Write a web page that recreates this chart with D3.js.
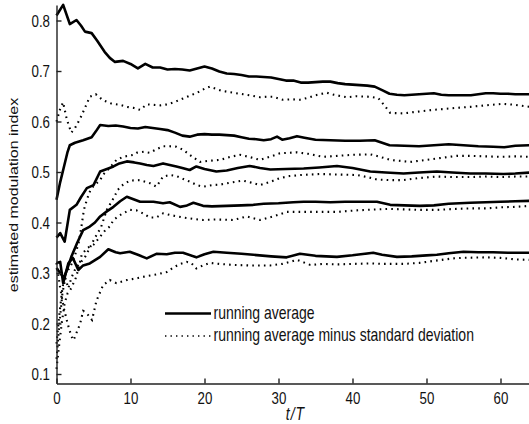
<!DOCTYPE html>
<html>
<head>
<meta charset="utf-8">
<script src="https://cdn.jsdelivr.net/npm/d3@7"></script>
<style>
  body { margin: 0; background: #fff; }
  svg { display: block; }
  text { font-family: "Liberation Sans", Arial, Helvetica, sans-serif; fill: #111; }
</style>
</head>
<body>
<svg id="chart" width="529" height="424"></svg>
<script>
// Axis ticks and legend entries
const xTicks = [0, 10, 20, 30, 40, 50, 60];
const yTicks = [0.1, 0.2, 0.3, 0.4, 0.5, 0.6, 0.7, 0.8];
const legendLabels = ["running average", "running average minus standard deviation"];

// Running averages of the estimated modulation index, as [t/T, value]
const runAvg1 = [[0,0.810],[0.9,0.831],[1.8,0.793],[2.7,0.801],[3.3,0.790],[3.85,0.778],[4.75,0.775],[5.5,0.760],[6.5,0.738],[7.2,0.726],[7.9,0.718],[9,0.720],[10,0.714],[11,0.705],[12,0.714],[13,0.707],[14,0.707],[15,0.703],[16,0.704],[17,0.703],[18,0.701],[19,0.705],[20,0.709],[21,0.705],[22,0.699],[23,0.695],[24,0.694],[25,0.692],[26,0.689],[27,0.689],[28,0.688],[29,0.687],[30,0.684],[31,0.681],[32,0.681],[33,0.677],[34,0.677],[35,0.678],[36,0.679],[37,0.679],[38,0.676],[39,0.674],[40,0.673],[41,0.672],[42,0.671],[43,0.669],[44,0.662],[45,0.655],[46,0.653],[47,0.652],[48,0.653],[49,0.654],[50,0.655],[51,0.656],[52,0.653],[53,0.652],[54,0.652],[55,0.652],[56,0.652],[57,0.654],[58,0.656],[59,0.656],[60,0.655],[61,0.655],[62,0.654],[63,0.654],[64,0.654]];
const runAvg2 = [[0,0.445],[0.5,0.480],[1,0.510],[1.5,0.540],[1.8,0.553],[2.5,0.558],[3.6,0.563],[4.75,0.569],[5.3,0.580],[5.9,0.593],[7,0.591],[8,0.592],[9,0.590],[10,0.587],[11,0.586],[12,0.589],[13,0.587],[14,0.585],[15,0.583],[16,0.578],[17,0.572],[18,0.570],[19,0.574],[20,0.575],[21,0.574],[22,0.574],[23,0.573],[24,0.572],[25,0.569],[26,0.566],[27,0.565],[28,0.563],[29,0.565],[29.8,0.570],[30.5,0.564],[31.5,0.567],[32.5,0.571],[33.5,0.568],[35,0.564],[37,0.563],[39,0.562],[41,0.562],[43,0.563],[44,0.558],[45,0.553],[47,0.552],[49,0.551],[51,0.553],[53,0.555],[55,0.553],[57,0.551],[59,0.550],[60.5,0.549],[62,0.552],[64,0.553]];
const runAvg3 = [[0,0.370],[0.5,0.379],[1.1,0.362],[1.8,0.425],[2.7,0.435],[3.3,0.450],[4.1,0.468],[5,0.474],[5.9,0.501],[7,0.507],[7.7,0.511],[8.5,0.517],[9.5,0.521],[10.5,0.519],[11.3,0.517],[12.2,0.514],[13.1,0.512],[14.4,0.517],[15.3,0.514],[16.2,0.511],[17,0.508],[18,0.504],[18.9,0.511],[20,0.506],[21.6,0.501],[23,0.503],[24.5,0.508],[26.1,0.512],[27.5,0.508],[28.9,0.505],[31,0.506],[33.4,0.507],[35.5,0.509],[37.9,0.512],[40,0.508],[42.4,0.501],[44.5,0.499],[46.9,0.497],[49,0.499],[51.4,0.501],[53.5,0.499],[55.9,0.497],[58,0.497],[60.4,0.496],[62,0.497],[64,0.499]];
const runAvg4 = [[0,0.310],[0.5,0.300],[1,0.290],[1.5,0.310],[2,0.332],[2.8,0.360],[3.6,0.385],[4.5,0.392],[5.2,0.400],[5.9,0.412],[6.8,0.422],[7.7,0.431],[8.6,0.442],[9.5,0.451],[10.4,0.446],[11.3,0.441],[12.2,0.441],[13.1,0.441],[14.4,0.438],[15.3,0.440],[16.7,0.431],[17.5,0.433],[18.5,0.439],[19.8,0.433],[21,0.432],[23,0.433],[25,0.434],[26.6,0.435],[28,0.437],[30,0.438],[32,0.440],[33.4,0.441],[35,0.441],[37,0.440],[39,0.441],[41,0.441],[43.3,0.441],[45.1,0.435],[47,0.434],[49.1,0.433],[51,0.434],[53,0.437],[55.9,0.439],[58,0.440],[60,0.441],[62,0.442],[64,0.443]];
const runAvg5 = [[0,0.320],[0.5,0.322],[0.9,0.280],[1.6,0.319],[2.2,0.330],[2.95,0.306],[3.6,0.315],[4.5,0.319],[5.9,0.332],[7,0.347],[8,0.341],[8.6,0.339],[9.9,0.342],[11,0.336],[12.2,0.329],[13.5,0.338],[14.9,0.337],[16,0.340],[17.1,0.340],[18.9,0.331],[20,0.337],[21.2,0.342],[23,0.340],[25,0.338],[26.6,0.336],[29,0.333],[31.1,0.331],[32.9,0.338],[35,0.334],[37.9,0.332],[40,0.335],[42.8,0.340],[44,0.336],[46,0.332],[48,0.333],[50,0.335],[51.4,0.336],[53,0.339],[55,0.342],[57,0.341],[59,0.341],[61,0.340],[63,0.340],[64,0.340]];

// Running averages minus one standard deviation
const runAvgMinusSd1 = [[0,0.600],[0.5,0.625],[0.9,0.638],[1.3,0.610],[1.6,0.595],[2,0.578],[2.5,0.587],[3.2,0.606],[3.85,0.627],[4.5,0.649],[5.3,0.654],[6.3,0.642],[7.5,0.635],[8.6,0.633],[9.5,0.629],[10.4,0.627],[11.3,0.623],[12.2,0.634],[13.1,0.633],[14,0.632],[15,0.634],[16,0.639],[17,0.645],[18,0.651],[19,0.657],[20,0.665],[20.7,0.669],[21.5,0.665],[22.3,0.661],[23,0.659],[24.3,0.656],[25.2,0.654],[26.5,0.651],[27.5,0.648],[28.4,0.649],[29.3,0.649],[30.6,0.643],[31.8,0.644],[32.9,0.643],[34,0.647],[35,0.652],[36.5,0.657],[37.5,0.653],[39.2,0.648],[40.5,0.650],[42.4,0.649],[43.5,0.646],[44.3,0.632],[45.1,0.617],[46.9,0.616],[48.5,0.619],[50.9,0.623],[52.5,0.625],[54,0.627],[55.9,0.629],[58,0.632],[60.3,0.635],[62,0.633],[64,0.629]];
const runAvgMinusSd2 = [[0,0.160],[0.4,0.220],[0.8,0.270],[1.2,0.300],[1.8,0.310],[2.4,0.330],[3,0.360],[3.4,0.395],[3.7,0.425],[4.1,0.445],[4.6,0.465],[5,0.472],[5.9,0.484],[6.3,0.495],[6.8,0.502],[7.7,0.517],[8.1,0.524],[9,0.530],[10.4,0.534],[10.8,0.538],[11.8,0.540],[12.6,0.538],[13.5,0.545],[14.4,0.551],[15.3,0.551],[16.2,0.550],[17.1,0.544],[18.2,0.532],[19.4,0.520],[20.5,0.522],[22.1,0.524],[23.5,0.530],[24.8,0.534],[26,0.530],[27.5,0.524],[29,0.531],[30.2,0.537],[32.5,0.539],[34,0.536],[36,0.530],[38,0.532],[40,0.534],[42.4,0.535],[43.5,0.531],[45.1,0.524],[47.8,0.520],[50,0.524],[52,0.528],[54.1,0.532],[56,0.532],[58,0.531],[60,0.530],[62,0.531],[64,0.530]];
const runAvgMinusSd3 = [[0,0.130],[0.4,0.200],[0.8,0.260],[1.2,0.290],[1.6,0.270],[2,0.290],[2.6,0.310],[3.2,0.320],[3.8,0.330],[4.5,0.350],[5.2,0.370],[6,0.390],[6.8,0.425],[7.7,0.448],[8.3,0.465],[9,0.475],[9.9,0.483],[11.3,0.484],[12.6,0.478],[13.5,0.471],[14.4,0.491],[15.3,0.494],[16.2,0.492],[17,0.487],[18,0.481],[19,0.474],[19.8,0.471],[21,0.474],[22.1,0.475],[23.5,0.479],[25.2,0.483],[26.3,0.479],[27.5,0.474],[28.8,0.480],[30.2,0.488],[31.5,0.492],[33,0.494],[35.6,0.496],[38,0.495],[40.6,0.494],[42,0.490],[43.3,0.485],[45,0.484],[46.9,0.484],[49,0.488],[51.4,0.491],[53.5,0.490],[55.9,0.490],[58,0.491],[60,0.490],[62,0.491],[64,0.491]];
const runAvgMinusSd4 = [[0,0.110],[0.3,0.150],[0.7,0.200],[1.1,0.240],[1.5,0.260],[2,0.270],[2.6,0.290],[3,0.310],[3.4,0.336],[4.1,0.349],[5,0.356],[5.9,0.372],[6.6,0.385],[7.2,0.392],[7.7,0.405],[8.5,0.414],[9.9,0.425],[10.8,0.424],[11.7,0.418],[12.6,0.410],[13.5,0.410],[14.4,0.418],[15.3,0.415],[17.1,0.410],[18.5,0.407],[19.8,0.405],[21.5,0.406],[23.9,0.405],[25.7,0.412],[27.5,0.405],[29.5,0.413],[31.1,0.421],[34,0.421],[37.9,0.421],[40.5,0.424],[43.3,0.426],[45,0.427],[46.9,0.426],[49,0.425],[51.4,0.425],[54,0.427],[56,0.428],[58.1,0.428],[60,0.430],[62,0.431],[64,0.433]];
const runAvgMinusSd5 = [[0,0.320],[0.5,0.270],[1,0.230],[1.5,0.200],[2,0.175],[2.3,0.167],[2.8,0.185],[3.2,0.200],[3.6,0.225],[4.1,0.220],[4.8,0.207],[5.4,0.245],[6.3,0.276],[7.2,0.286],[8.1,0.280],[9.5,0.286],[11,0.290],[12.2,0.294],[13.5,0.297],[14.9,0.302],[15.8,0.311],[16.7,0.318],[17.6,0.322],[18.2,0.320],[18.9,0.309],[19.8,0.315],[20.7,0.320],[22,0.318],[24,0.316],[26,0.315],[28.9,0.315],[30.5,0.318],[32.5,0.326],[34.3,0.316],[36,0.318],[38,0.317],[40,0.318],[42.4,0.319],[44,0.318],[46.9,0.318],[49,0.320],[51,0.324],[53.6,0.329],[55,0.330],[58.1,0.331],[60,0.330],[62,0.327],[64,0.326]];

const solidSeries = [runAvg1, runAvg2, runAvg3, runAvg4, runAvg5];
const dottedSeries = [runAvgMinusSd1, runAvgMinusSd2, runAvgMinusSd3, runAvgMinusSd4, runAvgMinusSd5];

const svg = d3.select("#chart");
const TEXT_STRETCH = 1.25;   // glyphs are drawn taller than they are wide

const x = d3.scaleLinear().domain([0, 64]).range([56.5, 530.1]);
const y = d3.scaleLinear().domain([0.0812, 0.8307]).range([383.5, 5]);

svg.append("defs").append("clipPath").attr("id", "plotClip")
  .append("rect")
  .attr("x", x.range()[0] - 2).attr("y", y.range()[1] - 2)
  .attr("width", x.range()[1] - x.range()[0] + 4)
  .attr("height", y.range()[0] - y.range()[1] + 4);

const line = d3.line().x(d => x(d[0])).y(d => y(d[1]));

const plot = svg.append("g").attr("clip-path", "url(#plotClip)");

plot.selectAll("path.sd")
  .data(dottedSeries)
  .join("path")
  .attr("class", "sd")
  .attr("d", line)
  .attr("fill", "none")
  .attr("stroke", "#000")
  .attr("stroke-width", 2.1)
  .attr("stroke-dasharray", "1.6 4.2");

plot.selectAll("path.avg")
  .data(solidSeries)
  .join("path")
  .attr("class", "avg")
  .attr("d", line)
  .attr("fill", "none")
  .attr("stroke", "#000")
  .attr("stroke-width", 2.6)
  .attr("stroke-linejoin", "round");

// Axes with inward ticks
const xAxis = svg.append("g")
  .attr("transform", `translate(0,${y.range()[0]})`)
  .call(d3.axisBottom(x).tickValues(xTicks).tickSizeInner(-5).tickSizeOuter(0).tickFormat(d3.format("d")));
const yAxis = svg.append("g")
  .attr("transform", `translate(${x.range()[0]},0)`)
  .call(d3.axisLeft(y).tickValues(yTicks).tickSizeInner(-5).tickSizeOuter(0).tickPadding(6.5).tickFormat(d3.format(".1f")));

[xAxis, yAxis].forEach(g => {
  g.attr("font-family", null).attr("font-size", null);
  g.select(".domain").attr("stroke", "#222").attr("stroke-width", 1.4);
  g.selectAll(".tick line").attr("stroke", "#222").attr("stroke-width", 1.4);
});

const tickFont = 13.3;
xAxis.selectAll(".tick text")
  .attr("font-size", tickFont)
  .attr("dy", null)
  .attr("y", 20.5 / TEXT_STRETCH)
  .attr("transform", `scale(1,${TEXT_STRETCH})`);
yAxis.selectAll(".tick text")
  .attr("font-size", tickFont)
  .attr("dy", null)
  .attr("y", (0.716 * tickFont * TEXT_STRETCH / 2) / TEXT_STRETCH)
  .attr("transform", `scale(1,${TEXT_STRETCH})`);

// Axis titles
const xTitle = svg.append("text")
  .attr("transform", `translate(295,420) scale(1,${TEXT_STRETCH})`)
  .attr("text-anchor", "middle")
  .attr("font-size", 14)
  .attr("font-style", "italic");
xTitle.append("tspan").text("t");
xTitle.append("tspan").attr("dx", 1).text("/");
xTitle.append("tspan").attr("dx", 1).text("T");

svg.append("text")
  .attr("transform", `translate(18,195) rotate(-90) scale(1.2,1)`)
  .attr("text-anchor", "middle")
  .attr("font-size", 13.3)
  .text("estimated modulation index");

// Legend
const legendRows = [
  { label: legendLabels[0], y: 313.5, dash: null, width: 2.6 },
  { label: legendLabels[1], y: 336, dash: "1.4 4.1", width: 1.6 }
];
const legend = svg.append("g");
legendRows.forEach(r => {
  legend.append("line")
    .attr("x1", 165).attr("x2", 211)
    .attr("y1", r.y).attr("y2", r.y)
    .attr("stroke", "#000")
    .attr("stroke-width", r.width)
    .attr("stroke-dasharray", r.dash);
  legend.append("text")
    .attr("transform", `translate(213.5,${r.y + 5}) scale(1,${TEXT_STRETCH})`)
    .attr("font-size", 14)
    .text(r.label);
});
</script>
</body>
</html>
